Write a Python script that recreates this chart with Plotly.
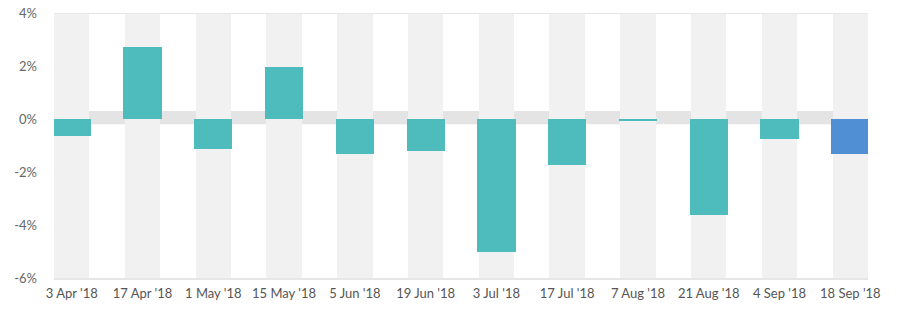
import plotly.graph_objects as go

# Fortnightly change, in percent
dates = ["3 Apr '18", "17 Apr '18", "1 May '18", "15 May '18", "5 Jun '18", "19 Jun '18",
         "3 Jul '18", "17 Jul '18", "7 Aug '18", "21 Aug '18", "4 Sep '18", "18 Sep '18"]
changes = [-0.63, 2.72, -1.15, 1.95, -1.33, -1.22, -5.0, -1.72, -0.08, -3.61, -0.76, -1.33]

y_min, y_max = -6, 4
y_ticks = [-6, -4, -2, 0, 2, 4]
y_tick_text = [f"{v}%" for v in y_ticks]

TEAL = "#4ebbbc"
BLUE = "#518fd4"
COLUMN_GREY = "#f1f1f1"
BAND_GREY = "#e4e4e4"
LINE_GREY = "#e6e6e6"

x = list(range(len(dates)))
bar_colors = [TEAL] * (len(dates) - 1) + [BLUE]

fig = go.Figure()

# light background column behind every period
fig.add_trace(go.Bar(
    x=x, y=[y_max - y_min] * len(x), base=[y_min] * len(x),
    width=0.5, marker=dict(color=COLUMN_GREY, line=dict(width=0)),
    hoverinfo="skip", showlegend=False,
))

# the changes themselves
fig.add_trace(go.Bar(
    x=x, y=changes, width=0.54,
    marker=dict(color=bar_colors, line=dict(width=0)),
    showlegend=False,
))

# neutral band around zero
fig.add_shape(type="rect", xref="paper", yref="y", x0=0, x1=1, y0=-0.2, y1=0.3,
              fillcolor=BAND_GREY, line=dict(width=0), layer="below")
# top rule
fig.add_shape(type="line", xref="paper", yref="y", x0=0, x1=1, y0=y_max, y1=y_max,
              line=dict(color=LINE_GREY, width=2), layer="above")

fig.update_layout(
    width=906, height=329,
    margin=dict(l=54, r=38, t=13, b=51),
    barmode="overlay", bargap=0,
    plot_bgcolor="white", paper_bgcolor="white",
    font=dict(family="Lato", size=13, color="#666666"),
)
fig.update_xaxes(
    range=[-0.25, len(dates) - 0.75],
    tickmode="array", tickvals=x, ticktext=dates,
    showgrid=False, zeroline=False,
    showline=True, linecolor=LINE_GREY, linewidth=2,
    ticks="", ticklabelstandoff=2, automargin=False,
    tickfont=dict(family="Lato", size=13, color="#555555"),
    fixedrange=True,
)
fig.update_yaxes(
    range=[y_min, y_max],
    tickmode="array", tickvals=y_ticks, ticktext=y_tick_text,
    showgrid=False, zeroline=False, showline=False,
    ticks="", ticklabelstandoff=16, automargin=False,
    tickfont=dict(family="Lato", size=13, color="#666666"),
    fixedrange=True,
)

fig.write_html("out.html")
